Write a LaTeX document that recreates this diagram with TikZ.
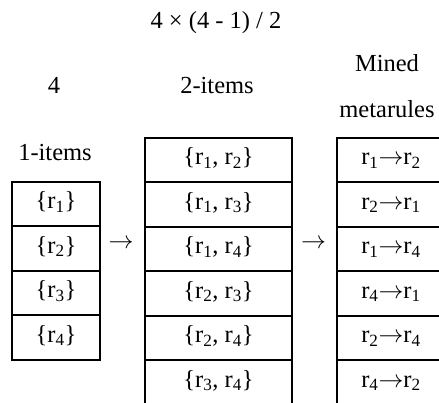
\documentclass[tikz,border=0pt]{standalone}
\usepackage{fontspec}
\setmainfont{Liberation Serif}
\newcommand{\rarr}{$\rightarrow$}
\begin{document}
\begin{tikzpicture}[x=1pt,y=-1pt,
  txt/.style={font=\fontsize{24.5}{28}\selectfont, inner sep=0pt, anchor=base},
  cell/.style={draw, line width=2pt, inner sep=0pt, anchor=north west,
    minimum height=44.5pt, text height=16pt, text depth=6.5pt,
    font=\fontsize{24.5}{28}\selectfont},
  lcell/.style={cell, minimum width=88.6pt},
  mcell/.style={cell, minimum width=147pt},
  rcell/.style={cell, minimum width=108pt}]
\useasboundingbox (0,0) rectangle (439,402);
\clip (0,0) rectangle (439,402);

% headings
\node[txt] (title) at (216,28) {4 × (4 - 1) / 2};
\node[txt] (n4) at (54,93) {4};
\node[txt] (two) at (217,93) {2-items};
\node[txt] (mined) at (387,71) {Mined};
\node[txt] (meta) at (387,117) {metarules};
\node[txt] (one) at (55,160) {1-items};

% 1-items column
\foreach \t [count=\i from 0] in {{\{r\textsubscript{1}\}},{\{r\textsubscript{2}\}},{\{r\textsubscript{3}\}},{\{r\textsubscript{4}\}}}
  \node[lcell] (L\i) at (10.7,180.5+44.5*\i) {\t};

% 2-items column
\foreach \t [count=\i from 0] in {
  {\{r\textsubscript{1}, r\textsubscript{2}\}},
  {\{r\textsubscript{1}, r\textsubscript{3}\}},
  {\{r\textsubscript{1}, r\textsubscript{4}\}},
  {\{r\textsubscript{2}, r\textsubscript{3}\}},
  {\{r\textsubscript{2}, r\textsubscript{4}\}},
  {\{r\textsubscript{3}, r\textsubscript{4}\}}}
  \node[mcell] (M\i) at (144,136.5+44.5*\i) {\t};

% mined metarules column
\foreach \t [count=\i from 0] in {
  {r\textsubscript{1}\rarr r\textsubscript{2}},
  {r\textsubscript{2}\rarr r\textsubscript{1}},
  {r\textsubscript{1}\rarr r\textsubscript{4}},
  {r\textsubscript{4}\rarr r\textsubscript{1}},
  {r\textsubscript{2}\rarr r\textsubscript{4}},
  {r\textsubscript{4}\rarr r\textsubscript{2}}}
  \node[rcell] (R\i) at (336,136.5+44.5*\i) {\t};

% arrows between the columns
\node[txt] (a1) at (121,248) {\rarr};
\node[txt] (a2) at (313.5,248) {\rarr};
\end{tikzpicture}
\end{document}
